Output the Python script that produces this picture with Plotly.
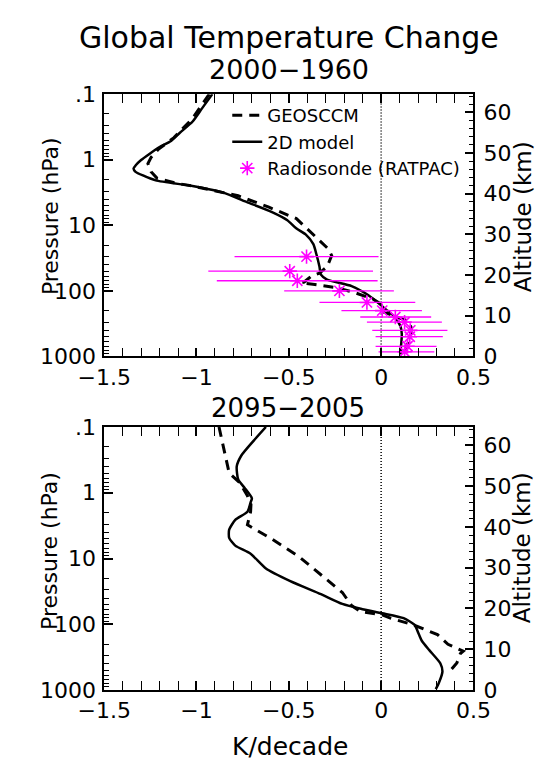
import numpy as np
import plotly.graph_objects as go

# ---------------- data ----------------
SCALE_H = 7.0                      # km, pressure <-> altitude conversion
Z_TOP = SCALE_H * np.log(1e4)      # altitude of 0.1 hPa

# Panel 1: 2000-1960
z_2d_a = [64.5, 61.0, 57.7, 55.0, 53.0, 51.5, 49.8, 48.3, 47.0, 46.2, 45.4, 44.5, 43.3,
          41.9, 40.3, 37.9, 35.5, 33.5, 31.5, 30.0, 27.6, 25.2, 22.1, 20.1, 18.9, 17.3,
          15.3, 13.3, 11.7, 9.8, 7.4, 5.5, 3.8, 1.0, 0.5]
t_2d_a = [-0.914, -0.97, -1.022, -1.09, -1.138, -1.20, -1.255, -1.30, -1.329, -1.341, -1.33,
          -1.29, -1.221, -1.022, -0.857, -0.724, -0.591, -0.508, -0.46, -0.409, -0.367, -0.351,
          -0.334, -0.326, -0.293, -0.16, -0.077, -0.019, 0.022, 0.072, 0.105, 0.112, 0.11,
          0.105, 0.105]

z_geos_a = [64.5, 58.5, 53.8, 51.0, 49.0, 47.4, 45.4, 43.8, 42.5, 41.9, 39.5, 36.7, 33.9,
            29.6, 26.4, 24.8, 22.1, 20.5, 19.8, 18.3, 18.1, 17.7, 16.9, 15.7, 14.1, 12.9,
            12.1, 10.9, 10.2, 9.2, 8.6, 7.0, 4.6, 2.4, 1.0]
t_geos_a = [-0.931, -1.022, -1.122, -1.205, -1.245, -1.263, -1.246, -1.213, -1.10, -1.022,
            -0.774, -0.608, -0.459, -0.359, -0.285, -0.268, -0.292, -0.334, -0.376, -0.417,
            -0.434, -0.359, -0.243, -0.143, -0.044, -0.002, 0.019, 0.014, 0.056, 0.105,
            0.152, 0.163, 0.158, 0.138, 0.125]

p_raob = [30, 50, 70, 100, 150, 200, 250, 300, 400, 500, 700, 850]
t_raob = [-0.404, -0.495, -0.454, -0.226, -0.077, 0.006, 0.077, 0.127, 0.158, 0.155, 0.143, 0.127]
t_raob_lo = [-0.794, -0.936, -0.89, -0.525, -0.334, -0.215, -0.113, -0.077, -0.048, -0.03, -0.03, -0.014]
t_raob_hi = [-0.014, -0.044, -0.019, 0.069, 0.185, 0.221, 0.271, 0.329, 0.359, 0.334, 0.30, 0.288]

# Panel 2: 2095-2005
z_2d_b = [64.5, 61.1, 57.5, 54.8, 51.6, 49.6, 47.0, 46.0, 43.7, 41.7, 39.3, 37.3, 35.4, 33.4,
          29.8, 26.7, 23.5, 21.1, 19.9, 18.8, 17.6, 16.0, 13.6, 12.0, 9.7, 6.5, 4.5, 1.75, 0.2]
t_2d_b = [-0.624, -0.691, -0.757, -0.782, -0.774, -0.74, -0.70, -0.707, -0.724, -0.79, -0.823,
          -0.823, -0.79, -0.707, -0.624, -0.492, -0.326, -0.21, -0.11, 0.006, 0.122, 0.18,
          0.205, 0.221, 0.262, 0.321, 0.332, 0.313, 0.296]

z_geos_b = [64.5, 58.7, 53.2, 50.8, 47.6, 45.5, 43.7, 40.5, 37.0, 32.6, 27.1, 23.9, 20.7,
            19.2, 18.4, 17.6, 16.0, 13.6, 11.2, 9.5, 8.9, 6.6, 5.0]
t_geos_b = [-0.878, -0.848, -0.823, -0.765, -0.724, -0.705, -0.707, -0.724, -0.591, -0.442,
            -0.293, -0.21, -0.16, -0.11, 0.006, 0.05, 0.172, 0.305, 0.362, 0.445, 0.429,
            0.41, 0.38]

x_ticks = [-1.5, -1.0, -0.5, 0.0, 0.5]
x_ticktext = ["\u22121.5", "\u22121", "\u22120.5", "0", "0.5"]
p_ticks = [0.1, 1, 10, 100, 1000]
p_ticktext = [".1", "1", "10", "100", "1000"]
p_minor = [m * 10.0 ** e for e in range(-1, 3) for m in range(2, 10)]
z_ticks = [0, 10, 20, 30, 40, 50, 60]

FONT = "DejaVu Sans"
MAGENTA = "#FF00FF"


def z2p(z):
    return 1000.0 * np.exp(-np.asarray(z, dtype=float) / SCALE_H)


# ---------------- layout geometry ----------------
W, HPX = 553, 770
def fx(x):
    return x / W
def fy(y):
    return 1 - y / HPX

x_dom = [fx(84), fx(486)]
top_dom = [fy(356), fy(85)]
bot_dom = [fy(700.7), fy(429)]

fig = go.Figure()

dash_style = "10px,7px"

# --- top panel ---
fig.add_trace(go.Scatter(x=t_geos_a, y=z2p(z_geos_a), mode="lines", name="GEOSCCM",
                         line=dict(color="black", width=3, dash=dash_style),
                         xaxis="x", yaxis="y"))
fig.add_trace(go.Scatter(x=t_2d_a, y=z2p(z_2d_a), mode="lines", name="2D model",
                         line=dict(color="black", width=2.5, shape="spline", smoothing=0.6),
                         xaxis="x", yaxis="y"))
t_r = np.array(t_raob)
fig.add_trace(go.Scatter(x=t_raob, y=p_raob, mode="markers", name="Radiosonde (RATPAC)",
                         marker=dict(symbol="asterisk-open", size=12, color=MAGENTA,
                                     line=dict(color=MAGENTA, width=1.6)),
                         error_x=dict(type="data", symmetric=False,
                                      array=(np.array(t_raob_hi) - t_r).tolist(),
                                      arrayminus=(t_r - np.array(t_raob_lo)).tolist(),
                                      color=MAGENTA, thickness=1.3, width=0),
                         xaxis="x", yaxis="y"))
# altitude axis companion (invisible)
fig.add_trace(go.Scatter(x=t_2d_a, y=z_2d_a, mode="lines", showlegend=False,
                         line=dict(width=0), opacity=0, hoverinfo="skip",
                         xaxis="x", yaxis="y2"))

# --- bottom panel ---
fig.add_trace(go.Scatter(x=t_geos_b, y=z2p(z_geos_b), mode="lines", showlegend=False,
                         line=dict(color="black", width=3, dash=dash_style),
                         xaxis="x2", yaxis="y3"))
fig.add_trace(go.Scatter(x=t_2d_b, y=z2p(z_2d_b), mode="lines", showlegend=False,
                         line=dict(color="black", width=2.5, shape="spline", smoothing=0.6),
                         xaxis="x2", yaxis="y3"))
fig.add_trace(go.Scatter(x=t_2d_b, y=z_2d_b, mode="lines", showlegend=False,
                         line=dict(width=0), opacity=0, hoverinfo="skip",
                         xaxis="x2", yaxis="y4"))

tickfont = dict(family=FONT, size=22, color="black")

def xaxis_cfg(anchor):
    return dict(domain=x_dom, anchor=anchor, range=[-1.5, 0.5],
                tickmode="array", tickvals=x_ticks, ticktext=x_ticktext,
                ticks="inside", ticklen=9, tickwidth=1.5, tickcolor="black",
                minor=dict(dtick=0.1, tick0=-1.5, ticks="inside", ticklen=5,
                           tickwidth=1.2, tickcolor="black", showgrid=False),
                showline=True, linewidth=1.5, linecolor="black", mirror="allticks",
                showgrid=False, zeroline=False, tickfont=tickfont, ticklabelstandoff=0)

def paxis_cfg(dom, anchor):
    return dict(domain=dom, anchor=anchor, type="log", range=[3, -1],
                tickmode="array", tickvals=p_ticks, ticktext=p_ticktext,
                ticks="inside", ticklen=9, tickwidth=1.5, tickcolor="black",
                minor=dict(tickmode="array", tickvals=p_minor, ticks="inside", ticklen=5,
                           tickwidth=1.2, tickcolor="black", showgrid=False),
                showline=True, linewidth=1.5, linecolor="black", mirror=False,
                showgrid=False, zeroline=False, tickfont=tickfont, ticklabelstandoff=2)

def zaxis_cfg(over, anchor):
    return dict(overlaying=over, anchor=anchor, side="right", range=[0, Z_TOP],
                tickmode="array", tickvals=z_ticks,
                ticks="inside", ticklen=9, tickwidth=1.5, tickcolor="black",
                minor=dict(dtick=2, tick0=0, ticks="inside", ticklen=5,
                           tickwidth=1.2, tickcolor="black", showgrid=False),
                showline=True, linewidth=1.5, linecolor="black",
                showgrid=False, zeroline=False, tickfont=tickfont, ticklabelstandoff=4)

fig.update_layout(
    width=W, height=HPX, autosize=False,
    margin=dict(l=0, r=0, t=0, b=0),
    paper_bgcolor="white", plot_bgcolor="white",
    font=dict(family=FONT, color="black"),
    xaxis=xaxis_cfg("y"),
    yaxis=paxis_cfg(top_dom, "x"),
    yaxis2=zaxis_cfg("y", "x"),
    xaxis2=xaxis_cfg("y3"),
    yaxis3=paxis_cfg(bot_dom, "x2"),
    yaxis4=zaxis_cfg("y3", "x2"),
    showlegend=True,
    legend=dict(x=fx(218), y=fy(88), xanchor="left", yanchor="top",
                bgcolor="rgba(0,0,0,0)", borderwidth=0,
                font=dict(family=FONT, size=18, color="black"),
                itemwidth=30, tracegroupgap=0),
)

# dotted zero lines
for xr, yr in (("x", "y domain"), ("x2", "y3 domain")):
    fig.add_shape(type="line", xref=xr, yref=yr, x0=0, x1=0, y0=0, y1=1,
                  line=dict(color="black", width=1.5, dash="1px,2px"), layer="below")

ann = [
    dict(text="Global Temperature Change", x=fx(285), y=fy(26), size=30, angle=0),
    dict(text="2000\u22121960", x=fx(285), y=fy(59), size=27, angle=0),
    dict(text="2095\u22122005", x=fx(284), y=fy(409), size=26, angle=0),
    dict(text="K/decade", x=fx(286), y=fy(759), size=25, angle=0),
    dict(text="Pressure (hPa)", x=fx(25), y=fy(211), size=22, angle=-90),
    dict(text="Pressure (hPa)", x=fx(25), y=fy(557), size=22, angle=-90),
    dict(text="Altitude (km)", x=fx(540), y=fy(212), size=23, angle=-90),
    dict(text="Altitude (km)", x=fx(539), y=fy(554), size=23, angle=-90),
]
for a in ann:
    fig.add_annotation(text=a["text"], x=a["x"], y=a["y"], xref="paper", yref="paper",
                       xanchor="center", yanchor="middle", showarrow=False,
                       textangle=a["angle"],
                       font=dict(family=FONT, size=a["size"], color="black"))

fig.write_html("out.html")
